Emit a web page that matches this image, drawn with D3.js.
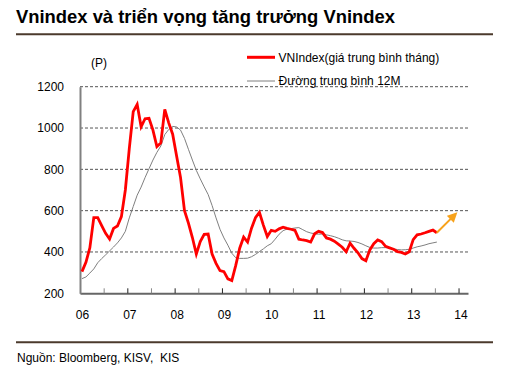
<!DOCTYPE html>
<html>
<head>
<meta charset="utf-8">
<script src="https://cdn.jsdelivr.net/npm/d3@7"></script>
<style>
  body { margin: 0; background: #fff; }
  svg { font-family: "Liberation Sans", Arial, sans-serif; }
</style>
</head>
<body>
<div class="chart"></div>
<script>
// monthly data, Jan 2006 .. Jul 2013
const startYear = 2006;
const vnindex = [
  305, 350, 420, 566, 566, 528, 490, 463, 514, 526, 571, 700,
  900, 1079, 1114, 1006, 1045, 1047, 990, 910, 928, 1090, 1025, 970,
  865, 760, 600, 540, 470, 390, 450, 485, 487, 390, 345, 310,
  305, 270, 262, 335, 418, 472, 448, 515, 566, 592, 530, 475,
  505, 500, 512, 520, 514, 510, 505, 462, 458, 455, 448, 488,
  500, 494, 468, 462, 452, 438, 423, 401, 443, 418, 396, 368,
  358, 410, 440, 458, 450, 427, 420, 413, 402, 398, 390, 401,
  460, 483, 487, 493, 500, 506, 493
];
const ma12 = [
  271, 279, 298, 318, 348, 368, 386, 405, 424, 444, 468, 500,
  565, 620, 675, 714, 760, 803, 845, 882, 913, 968, 993, 1008,
  1005, 990, 950, 897, 845, 795, 754, 715, 678, 625, 565, 510,
  468, 433, 394, 372, 369, 369, 370, 377, 388, 402, 415, 430,
  440, 462, 486, 503, 511, 513, 516, 518, 508, 498, 492, 488,
  486, 487, 483, 479, 474, 467, 459, 454, 453, 451, 446, 439,
  430, 422, 419, 419, 421, 421, 420, 415, 412, 410, 411, 413,
  419, 425, 429, 434, 440, 444, 448
];
const yTicks = [200, 400, 600, 800, 1000, 1200];
const xYears = [2006, 2007, 2008, 2009, 2010, 2011, 2012, 2013, 2014];
// outlook arrow: [year, value]
const outlook = [[2013.54, 493], [2013.93, 582]];

const w = 519, h = 377;

const svg = d3.select("div.chart")
  .append("svg")
  .attr("width", w)
  .attr("height", h);

svg.append("rect").attr("width", w).attr("height", h).attr("fill", "#fff");

// title + rules
svg.append("text")
  .attr("x", 16).attr("y", 23)
  .attr("font-size", "18.4px").attr("font-weight", "bold").attr("fill", "#000")
  .text("Vnindex và triển vọng tăng trưởng Vnindex");

svg.append("line").attr("x1", 16).attr("x2", 493).attr("y1", 34.3).attr("y2", 34.3)
  .attr("stroke", "#4b3a2c").attr("stroke-width", 2);
svg.append("line").attr("x1", 16).attr("x2", 493).attr("y1", 342.3).attr("y2", 342.3)
  .attr("stroke", "#4b3a2c").attr("stroke-width", 2);

svg.append("text")
  .attr("x", 17).attr("y", 362)
  .attr("font-size", "12px").attr("fill", "#000")
  .style("white-space", "pre")
  .text("Nguồn: Bloomberg, KISV,  KIS");

// scales
const xScale = d3.scaleLinear()
  .domain([2006, 2014.2])
  .range([80, 468]);

const yScale = d3.scaleLinear()
  .domain([200, 1200])
  .range([293.3, 86.7]);

const monthX = i => xScale(startYear + (i + 0.5) / 12);

// gridlines
svg.append("g")
  .selectAll("line")
  .data(yTicks.filter(d => d > 200))
  .enter()
  .append("line")
  .attr("x1", 80).attr("x2", 468)
  .attr("y1", d => yScale(d)).attr("y2", d => yScale(d))
  .attr("stroke", "#555").attr("stroke-width", 1)
  .attr("stroke-dasharray", "3,2");

// axes
const halfYears = d3.range(0, 17).map(k => 2006 + k / 2);
const xAxis = d3.axisBottom(xScale)
  .tickValues(halfYears)
  .tickSize(-5)
  .tickSizeOuter(0)
  .tickPadding(17.5)
  .tickFormat(d => xYears.includes(d) ? String(d).slice(2) : "");

const gx = svg.append("g")
  .attr("transform", "translate(0," + 293.3 + ")")
  .call(xAxis);
gx.select(".domain").attr("stroke", "#666").attr("stroke-width", 2);
gx.selectAll(".tick line").attr("stroke", d => Number.isInteger(d) ? "#222" : "#888");
gx.selectAll(".tick text")
  .attr("font-size", "12px").attr("font-family", "Liberation Sans, Arial, sans-serif")
  .attr("fill", "#000").attr("dx", 2);

const yAxis = d3.axisLeft(yScale)
  .tickValues(yTicks)
  .tickFormat(d3.format("d"))
  .tickSize(0)
  .tickPadding(16);

const gy = svg.append("g")
  .attr("transform", "translate(80,0)")
  .call(yAxis);
gy.select(".domain").attr("stroke", "#808080").attr("stroke-width", 2);
gy.selectAll(".tick text")
  .attr("font-size", "12px").attr("font-family", "Liberation Sans, Arial, sans-serif")
  .attr("fill", "#000");

svg.append("text")
  .attr("x", 91).attr("y", 67)
  .attr("font-size", "12px").attr("fill", "#000")
  .text("(P)");

// lines
const line = d3.line()
  .x((d, i) => monthX(i))
  .y(d => yScale(d));

svg.append("path")
  .datum(ma12)
  .attr("d", line)
  .attr("fill", "none")
  .attr("stroke", "#7f7f7f")
  .attr("stroke-width", 1);

svg.append("path")
  .datum(vnindex)
  .attr("d", line)
  .attr("fill", "none")
  .attr("stroke", "#ff0000")
  .attr("stroke-width", 2.8);

// arrow
svg.append("defs").append("marker")
  .attr("id", "arrow")
  .attr("viewBox", "0 0 10 10")
  .attr("refX", 7).attr("refY", 5)
  .attr("markerWidth", 5).attr("markerHeight", 5)
  .attr("orient", "auto")
  .append("path")
  .attr("d", "M0,0 L10,5 L0,10 z")
  .attr("fill", "#f7a21b");

svg.append("line")
  .attr("x1", xScale(outlook[0][0])).attr("y1", yScale(outlook[0][1]))
  .attr("x2", xScale(outlook[1][0])).attr("y2", yScale(outlook[1][1]))
  .attr("stroke", "#f7a21b").attr("stroke-width", 2)
  .attr("marker-end", "url(#arrow)");

// legend
const legend = [
  { label: "VNIndex(giá trung bình tháng)", color: "#ff0000", width: 3, y: 57.3 },
  { label: "Đường trung bình 12M", color: "#7f7f7f", width: 1, y: 81 }
];
const lg = svg.append("g");
legend.forEach(d => {
  lg.append("line")
    .attr("x1", 247).attr("x2", 275)
    .attr("y1", d.y).attr("y2", d.y)
    .attr("stroke", d.color).attr("stroke-width", d.width);
  lg.append("text")
    .attr("x", 278.5).attr("y", d.y + 4.3)
    .attr("font-size", "12px").attr("fill", "#000")
    .text(d.label);
});
</script>
</body>
</html>
